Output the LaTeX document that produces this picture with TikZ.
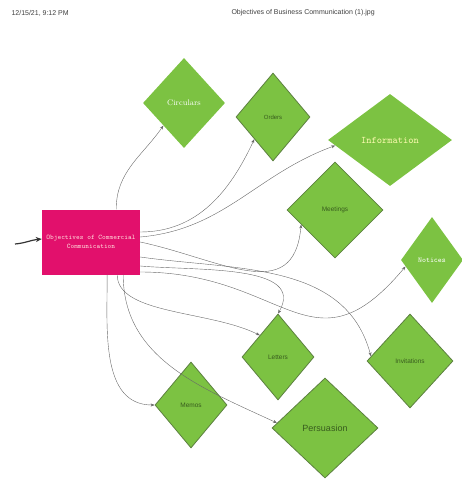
\documentclass[tikz,border=0pt]{standalone}
\usepackage{fontspec}
\setsansfont{Liberation Sans}
\usetikzlibrary{shapes.geometric,arrows.meta,calc}
\definecolor{boxpink}{RGB}{226,16,108}
\definecolor{leaf}{RGB}{124,194,66}
\definecolor{leafedge}{RGB}{92,128,64}
\definecolor{leafink}{RGB}{56,92,30}
\definecolor{wire}{RGB}{105,105,105}

\tikzset{
	objbox/.style={rectangle, fill=boxpink, minimum width=98pt, minimum height=65pt, inner sep=0pt, align=center, text=pink!60, font=\ttfamily\fontsize{7}{9}\selectfont},
	leafnode/.style={diamond, fill=leaf, inner sep=0pt, text=white},
	rimmed/.style={draw=leafedge, line width=0.8pt, text=leafink},
	link/.style={draw=wire, thin, -{Stealth[length=4pt,width=3pt]}},
	stamp/.style={anchor=west, text=black!75, font=\sffamily\fontsize{7}{8}\selectfont},
}

\begin{document}
\begin{tikzpicture}[x=1pt, y=-1pt]
	\useasboundingbox (0,0) rectangle (462,479);

	% Page header
	\node[stamp] (date) at (8,13) {12/15/21, 9:12 PM};
	\node[stamp] (file) at (228,13) {Objectives of Business Communication (1).jpg};

	% Centre box
	\node[objbox] (box) at (91,242) {Objectives of Commercial\\Communication};
	\coordinate (feed) at (15,244);
	\draw[-{Stealth[length=6pt,width=5pt]}, line width=1.2pt, black!80] (feed) to[out=5, in=185] ([yshift=3pt]box.west);

	% Diamonds
	\node[leafnode, minimum width=82pt, minimum height=90pt, font=\fontsize{8}{10}\selectfont] (circ) at (184,103) {Circulars};
	\node[leafnode, rimmed, minimum width=74pt, minimum height=88pt, font=\sffamily\fontsize{6}{8}\selectfont] (ord) at (273,117) {Orders};
	\node[leafnode, minimum width=124pt, minimum height=92pt, text=yellow!30, font=\ttfamily\fontsize{10}{12}\selectfont] (info) at (390,140) {Information};
	\node[leafnode, rimmed, minimum width=96pt, minimum height=96pt, font=\sffamily\fontsize{6.5}{8}\selectfont] (meet) at (335,210) {Meetings};
	\node[leafnode, minimum width=62pt, minimum height=86pt, font=\ttfamily\fontsize{7.5}{9}\selectfont] (note) at (432,260) {Notices};
	\node[leafnode, rimmed, minimum width=72pt, minimum height=86pt, font=\sffamily\fontsize{6.5}{8}\selectfont] (lett) at (278,357) {Letters};
	\node[leafnode, rimmed, minimum width=86pt, minimum height=94pt, font=\sffamily\fontsize{6.5}{8}\selectfont] (invi) at (410,361) {Invitations};
	\node[leafnode, rimmed, minimum width=72pt, minimum height=86pt, font=\sffamily\fontsize{6.5}{8}\selectfont] (memo) at (191,405) {Memos};
	\node[leafnode, rimmed, minimum width=106pt, minimum height=100pt, font=\sffamily\fontsize{9}{11}\selectfont] (pers) at (325,428) {Persuasion};

	% Connectors
	\draw[link] ([xshift=-24pt]box.north east) to[out=90, in=-125] (circ.south west);
	\draw[link] ([yshift=10pt]box.east) to[out=0, in=-115] (ord.south west);
	\draw[link] ([yshift=5pt]box.east) to[out=5, in=-160] ($(info.west)!0.12!(info.south)$);
	\draw[link] (box.east) to[out=-12, in=-95, looseness=1.3] ($(meet.west)!0.3!(meet.south)$);
	\draw[link] ([yshift=-30pt]box.east) to[out=0, in=-130, looseness=1.4] ($(note.west)!0.15!(note.south)$);
	\draw[link] ([yshift=-15pt]box.east) to[out=-8, in=105] ($(invi.west)!0.1!(invi.north)$);
	\draw[link] ([yshift=-24pt]box.east) to[out=-5, in=60] (lett.north);
	\draw[link] ([xshift=-23pt]box.south east) .. controls +(0,40) and +(-50,-25) .. (lett.north west);
	\draw[link] ([xshift=-17pt]box.south east) to[out=-90, in=155] ($(pers.west)!0.1!(pers.north)$);
	\draw[link] ([xshift=-33pt]box.south east) to[out=-90, in=180] (memo.west);
\end{tikzpicture}
\end{document}
